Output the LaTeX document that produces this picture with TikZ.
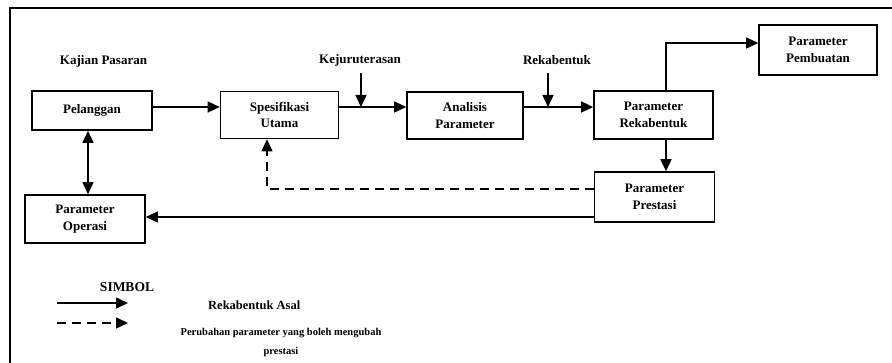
\documentclass[tikz,border=0pt]{standalone}
\usepackage{fontspec}
\setmainfont{Liberation Serif}
\usetikzlibrary{arrows.meta}
\begin{document}
\begin{tikzpicture}[x=1pt,y=-1pt,
  blk/.style={draw,line width=1.6pt,align=center,inner sep=0pt,font=\fontsize{13}{16.5}\selectfont\bfseries},
  lbl/.style={align=center,inner sep=0pt,font=\fontsize{13}{16}\selectfont\bfseries},
  conn/.style={line width=1.5pt,-{Triangle[length=12pt,width=11pt]}},
  dconn/.style={conn,dash pattern=on 9pt off 6pt},
  frame/.style={line width=1.8pt}]
\useasboundingbox (0,0) rectangle (892,363);
% frame
\coordinate (fbl) at (10,363);
\coordinate (ftl) at (10,8);
\coordinate (ftr) at (892,8);
\draw[frame] (fbl) -- (ftl) -- (ftr);
% boxes
\node[blk,minimum width=120pt,minimum height=39pt] (pel) at (92,110.5) {Pelanggan};
\node[blk,minimum width=118pt,minimum height=47pt] (spe) at (279.5,115) {Spesifikasi\\Utama};
\node[blk,minimum width=116pt,minimum height=47pt] (ana) at (465,115.5) {Analisis\\Parameter};
\node[blk,minimum width=119pt,minimum height=48pt] (rek) at (653.5,115) {Parameter\\Rekabentuk};
\node[blk,minimum width=118pt,minimum height=50pt] (pem) at (818,50) {Parameter\\Pembuatan};
\node[blk,minimum width=120pt,minimum height=50pt] (pre) at (654.5,197) {Parameter\\Prestasi};
\node[blk,minimum width=120pt,minimum height=48pt] (ope) at (85,219) {Parameter\\Operasi};
% labels
\node[lbl] (kp) at (103.5,61) {Kajian Pasaran};
\node[lbl] (kej) at (360,60) {Kejuruterasan};
\node[lbl] (rkb) at (557,60) {Rekabentuk};
\coordinate (kejs) at (361,73);
\coordinate (kejm) at (361,107);
\coordinate (rkbs) at (548,73);
\coordinate (rkbm) at (548,107);
% connectors
\draw[conn] (152,107) coordinate (pelo) -- (pelo -| spe.west);
\draw[conn] (338.5,107) coordinate (speo) -- (speo -| ana.west);
\draw[conn] (kejs) -- (kejm);
\draw[conn] (523,107) coordinate (anao) -- (anao -| rek.west);
\draw[conn] (rkbs) -- (rkbm);
\coordinate (rkup) at (666,43);
\draw[conn] (rkup |- rek.north) -- (rkup) -- (rkup -| pem.west);
\draw[conn] (666,139) coordinate (rkdn) -- (rkdn |- pre.north);
\coordinate (dcorner) at (267,189);
\draw[dconn] (dcorner -| pre.west) -- (dcorner) -- (dcorner |- spe.south);
\coordinate (sl) at (594,217);
\draw[conn] (sl) -- (sl -| ope.east);
\coordinate (pv) at (88,130);
\draw[conn,{Triangle[length=12pt,width=11pt]}-{Triangle[length=12pt,width=11pt]}] (pv |- pel.south) -- (pv |- ope.north);
% legend
\node[lbl,font=\fontsize{13.5}{16}\selectfont\bfseries] (simbol) at (127,287) {SIMBOL};
\coordinate (l1a) at (57,303);
\coordinate (l1b) at (128,303);
\coordinate (l2a) at (57,323);
\coordinate (l2b) at (128,323);
\draw[conn] (l1a) -- (l1b);
\draw[dconn] (l2a) -- (l2b);
\node[lbl,anchor=west,font=\fontsize{12.5}{16}\selectfont\bfseries] (asal) at (208,305) {Rekabentuk Asal};
\node[lbl,font=\fontsize{10.5}{19}\selectfont\bfseries] (ubah) at (281,342.5) {Perubahan parameter yang boleh mengubah\\prestasi};
\end{tikzpicture}
\end{document}
